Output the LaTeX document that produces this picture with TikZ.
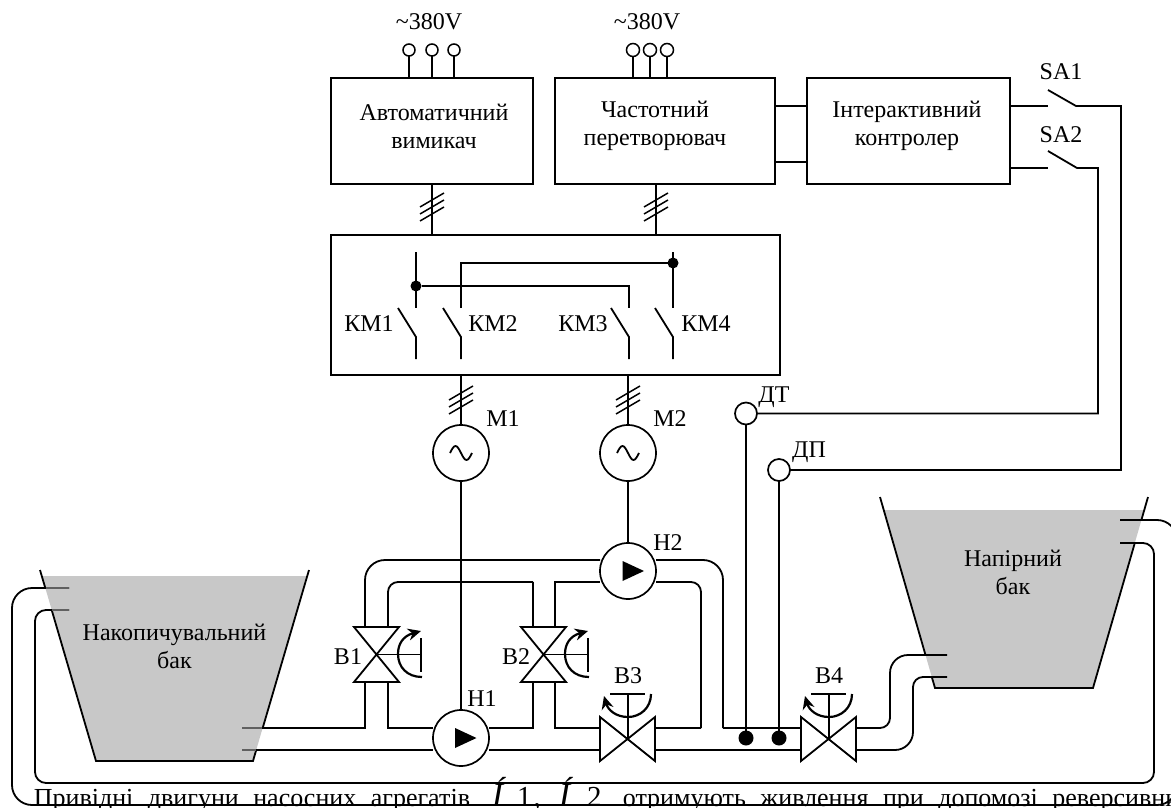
\documentclass[tikz,border=0pt]{standalone}
\usepackage{fontspec}
\setmainfont{Liberation Serif}
\usetikzlibrary{arrows.meta}
\definecolor{bakgray}{HTML}{C8C8C8}
\definecolor{stubgray}{HTML}{606060}
\tikzset{
  txt/.style={inner sep=0pt,font=\fontsize{24}{28}\selectfont,align=center},
  rjadok/.style={anchor=base west,inner sep=0pt,font=\fontsize{26}{30}\selectfont},
  blok/.style={draw,line width=1.9pt,inner sep=0pt,outer sep=0pt},
  klema/.style={draw,circle,line width=1.5pt,inner sep=0pt,minimum size=12pt,outer sep=0pt},
  mashyna/.style={draw,circle,line width=1.7pt,inner sep=0pt,minimum size=56pt,outer sep=0pt},
  datchyk/.style={draw,circle,line width=1.7pt,inner sep=0pt,minimum size=22pt,outer sep=0pt},
  tochka/.style={fill=black,circle,inner sep=0pt,outer sep=0pt},
  truba/.style={line width=1.8pt},
  stinka/.style={line width=1.8pt},
  ruchka/.style={line width=2.2pt,->},
}
\begin{document}
\begin{tikzpicture}[x=1pt,y=-1pt,line width=1.8pt,>={Stealth[length=13pt,width=12pt]}]
   \useasboundingbox (0,0) rectangle (1171,808);
   \clip (0,0) rectangle (1171,808);
   \fill[white] (0,0) rectangle (1171,808);

   % баки
   \fill[bakgray] (41.8,576) -- (307,576) -- (253,761) -- (96,761) -- cycle;
   \fill[bakgray] (883.7,510) -- (1144.3,510) -- (1093,688) -- (935,688) -- cycle;
   \draw[stinka] (40,570) -- (45.3,588) (51.7,610) -- (96,761) -- (253,761) -- (256.2,750) (262.7,728) -- (309,570);
   \draw[stinka] (880,497) -- (925.5,655) (931.8,677) -- (935,688) -- (1093,688) -- (1134.8,543) (1141.4,520) -- (1148,497);
   \node[txt] (naktxt) at (174.5,646) {Накопичувальний\\бак};
   \node[txt] (naptxt) at (1013,572) {Напірний\\бак};

   % блоки
   \node[blok,minimum width=202pt,minimum height=106pt] (avt) at (432,131) {};
   \node[blok,minimum width=220pt,minimum height=106pt] (chast) at (665,131) {};
   \node[blok,minimum width=203pt,minimum height=106pt] (inter) at (908.5,131) {};
   \node[blok,minimum width=449pt,minimum height=140pt] (km) at (555.5,305) {};
   \node[txt] (avttxt) at (434,126) {Автоматичний\\вимикач};
   \node[txt] (chasttxt) at (655,126) {Частотний\\перетворювач};
   \node[txt] (intertxt) at (907,126) {Інтерактивний\\контролер};

   % живлення
   \node[txt] (u1) at (429,22) {\textasciitilde 380V};
   \node[txt] (u2) at (647,22) {\textasciitilde 380V};
   \foreach \n/\kx in {a1/409,a2/432,a3/454}{
     \node[klema] (\n) at (\kx,50) {};
     \draw (\n) -- (\n |- avt.north);
   }
   \foreach \n/\kx in {b1/633,b2/650,b3/667}{
     \node[klema,minimum size=13pt] (\n) at (\kx,50) {};
     \draw (\n) -- (\n |- chast.north);
   }
   \draw (a2 |- avt.south) -- (a2 |- km.north);
   \draw (656,184) -- (656,235);
   \draw (chast.east |- 0,106) -- (inter.west |- 0,106);
   \draw (chast.east |- 0,162) -- (inter.west |- 0,162);

   % шини
   \foreach \hx/\hy in {432/207,656/207,461/400,628/400}
     \foreach \dy in {-7,0,7}
       \draw[line width=1.5pt] (\hx-12,\hy+\dy+7) -- (\hx+12,\hy+\dy-7);

   % контакти
   \foreach \kx in {416,461,629,673}{
     \draw (\kx-18,308) -- (\kx,337) -- (\kx,359);
   }
   \coordinate (k1) at (416,252);
   \coordinate (k2) at (461,263);
   \coordinate (k3) at (629,286);
   \coordinate (k4) at (673,252);
   \draw (k1) -- (416,308);
   \draw (k4) -- (673,308);
   \node[tochka,minimum size=11pt] (t1) at (416,286) {};
   \node[tochka,minimum size=11pt] (t2) at (673,263) {};
   \draw (461,308) -- (k2) -- (t2);
   \draw (t1) -- (k3) -- (629,308);
   \node[txt] (km1) at (369,324) {КМ1};
   \node[txt] (km2) at (493,324) {КМ2};
   \node[txt] (km3) at (583,324) {КМ3};
   \node[txt] (km4) at (706,324) {КМ4};

   % двигуни і насоси
   \node[mashyna] (m1) at (461,453) {};
   \node[mashyna] (m2) at (628,453) {};
   \node[mashyna] (n1) at (461,738) {};
   \node[mashyna] (n2) at (628,571) {};
   \node[txt] (m1txt) at (503,419) {М1};
   \node[txt] (m2txt) at (670,419) {М2};
   \node[txt] (n1txt) at (482,699) {Н1};
   \node[txt] (n2txt) at (668,543) {Н2};
   \draw (km.south -| m1) -- (m1);
   \draw (km.south -| m2) -- (m2);
   \draw (m1) -- (n1);
   \draw (m2) -- (n2);
   \foreach \n in {m1,m2}
     \draw ([xshift=-11pt]\n.center) sin ([xshift=-5.5pt,yshift=7pt]\n.center) cos (\n.center) sin ([xshift=5.5pt,yshift=-7pt]\n.center) cos ([xshift=11pt]\n.center);
   \fill (455,728) -- (476.5,738) -- (455,748) -- cycle;
   \fill (622.5,561) -- (644,571) -- (622.5,581) -- cycle;

   % труби
   \draw[truba] (242,728) -- (365,728) -- (365,682);
   \draw[truba] (388,682) -- (388,728) -- (n1.west |- 0,728);
   \draw[truba] (242,750) -- (n1.west |- 0,750);
   \draw[truba] (n1.east |- 0,728) -- (533,728) -- (533,682);
   \draw[truba] (555,682) -- (555,728) -- (600,728);
   \draw[truba] (n1.east |- 0,750) -- (600,750);
   \draw[truba,rounded corners=20pt] (365,627) -- (365,560) -- (n2.west |- 0,560);
   \draw[truba,rounded corners=10pt] (388,627) -- (388,582) -- (533,582);
   \draw[truba] (533,582) -- (533,627);
   \draw[truba] (555,627) -- (555,582) -- (n2.west |- 0,582);
   \draw[truba,rounded corners=10pt] (n2.east |- 0,582) -- (701,582) -- (701,728);
   \draw[truba] (701,728) -- (655,728);
   \draw[truba,rounded corners=20pt] (n2.east |- 0,560) -- (723,560) -- (723,728);
   \draw[truba] (723,728) -- (801,728);
   \draw[truba] (655,750) -- (801,750);
   \draw[truba,rounded corners=10pt] (857,728) -- (890,728) -- (890,690);
   \draw[truba,rounded corners=18pt] (890,700) -- (890,655) -- (947,655);
   \draw[truba,rounded corners=18pt] (857,750) -- (913,750) -- (913,700);
   \draw[truba,rounded corners=10pt] (913,710) -- (913,677) -- (947,677);
   \draw[truba,rounded corners=20pt] (69,588) -- (12,588) -- (12,805) -- (1177,805) -- (1177,520) -- (1120,520);
   \draw[truba,rounded corners=11pt] (69,610) -- (35,610) -- (35,783) -- (1154,783) -- (1154,543) -- (1120,543);
   \draw[truba,stubgray] (69,588) -- (46,588) (69,610) -- (52,610) (242,728) -- (262,728) (242,750) -- (256,750);

   % засувки В1, В2
   \foreach \vx in {377,544}{
     \draw[fill=white] (\vx-23,627) -- (\vx+22,627) -- (\vx-23,682) -- (\vx+22,682) -- cycle;
     \draw (\vx,654.5) -- (\vx+44,654.5);
     \draw (\vx+44,638) -- (\vx+44,672);
     \draw[ruchka] (\vx+45,677) .. controls (\vx+30,677) and (\vx+21,667) .. (\vx+21,654) .. controls (\vx+21,644) and (\vx+26,636) .. (\vx+44,631);
   }
   \node[txt] (v1txt) at (348,657) {В1};
   \node[txt] (v2txt) at (516,657) {В2};

   % засувки В3, В4
   \foreach \vx in {628,829}{
     \draw[fill=white] (\vx-28,717) -- (\vx+27,761) -- (\vx+27,717) -- (\vx-28,761) -- cycle;
     \draw (\vx,738) -- (\vx,694);
     \draw (\vx-18,694) -- (\vx+17,694);
     \draw[ruchka] (\vx+23,694) .. controls (\vx+23,708) and (\vx+12,717) .. (\vx,717) .. controls (\vx-12,717) and (\vx-20,710) .. (\vx-24,696);
   }
   \node[txt] (v3txt) at (628,676) {В3};
   \node[txt] (v4txt) at (829,676) {В4};

   % датчики
   \node[tochka,minimum size=15pt] (d1) at (746,738) {};
   \node[tochka,minimum size=15pt] (d2) at (779,738) {};
   \node[datchyk] (dt) at (746,413.5) {};
   \node[datchyk] (dp) at (779,470) {};
   \node[txt] (dttxt) at (774,397) {ДТ};
   \node[txt] (dptxt) at (809,452) {ДП};
   \draw (dt) -- (d1);
   \draw (dp) -- (d2);

   % ключі
   \node[txt] (sa1) at (1061,72) {SA1};
   \node[txt] (sa2) at (1061,135) {SA2};
   \draw (inter.east |- 0,106) -- (1048,106);
   \draw (inter.east |- 0,168) -- (1048,168);
   \draw (1048,90) -- (1076,106) -- (1121,106) -- (1121,470) -- (dp);
   \draw (1048,151) -- (1077,168) -- (1098,168) -- (1098,413.5) -- (dt);

   % рядок тексту
   \node[rjadok] (r1) at (33,806) {\spaceskip=14.5pt Привідні двигуни насосних агрегатів};
   \node[rjadok] (r2) at (491,806) {{\fontsize{34}{34}\selectfont\itshape Í}\hspace{14pt}{\fontsize{29}{30}\selectfont 1\kern2pt,}};
   \node[rjadok] (r3) at (558,806) {{\fontsize{34}{34}\selectfont\itshape Í}\hspace{17pt}{\fontsize{29}{30}\selectfont 2}};
   \node[rjadok] (r4) at (622,806) {\spaceskip=14.5pt отримують живлення при допомозі реверсивни};
\end{tikzpicture}
\end{document}
